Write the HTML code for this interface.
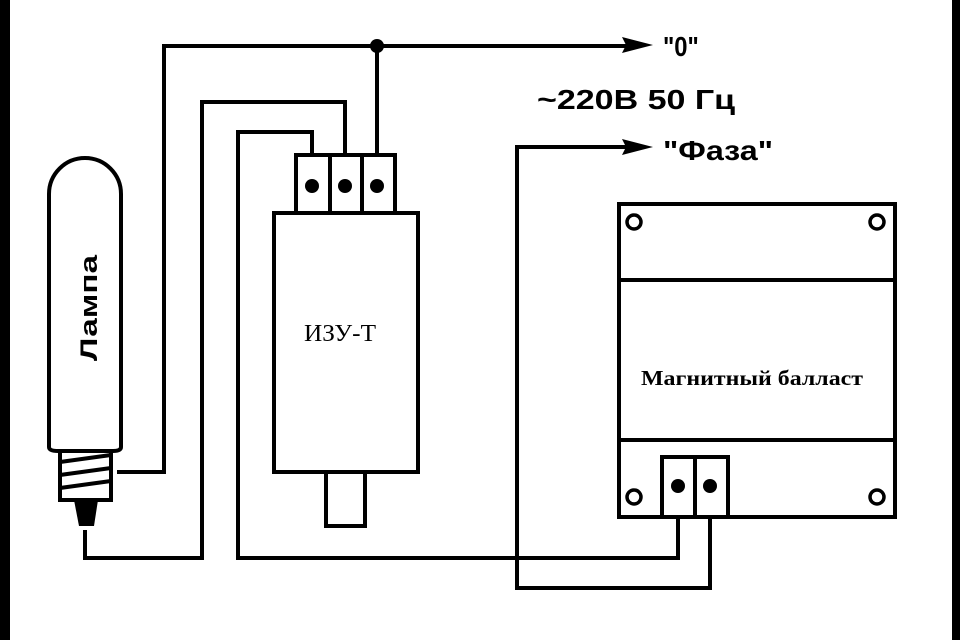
<!DOCTYPE html>
<html><head><meta charset="utf-8"><style>
html,body{margin:0;padding:0;background:#fff}
svg{display:block}
</style></head><body>
<svg width="960" height="640" viewBox="0 0 960 640" xmlns="http://www.w3.org/2000/svg">
<rect width="960" height="640" fill="#fff"/>
<rect x="0" y="0" width="10" height="640" fill="#000"/>
<rect x="952" y="0" width="8" height="640" fill="#000"/>
<g fill="none" stroke="#000" stroke-width="4" stroke-linejoin="miter">
<polyline points="117,472 164,472 164,46 638,46"/>
<line x1="377" y1="46" x2="377" y2="155"/>
<polyline points="345,155 345,102 202,102 202,558 85,558 85,530"/>
<polyline points="312,155 312,132 238,132 238,558 678,558 678,517"/>
<polyline points="638,147 517,147 517,588 710,588 710,517"/>
<rect x="296" y="155" width="99" height="58"/>
<line x1="330" y1="155" x2="330" y2="213"/>
<line x1="362" y1="155" x2="362" y2="213"/>
<rect x="274" y="213" width="144" height="259"/>
<rect x="326" y="472" width="39" height="54"/>
<path d="M49,447 L49,194 A36,36 0 0 1 121,194 L121,447 Q121,451 113,451 L58,451 Q49,451 49,447 Z"/>
<path d="M60,451 L60,500 L111,500 L111,451"/>
<line x1="60" y1="462" x2="111" y2="455"/>
<line x1="60" y1="475" x2="111" y2="468"/>
<line x1="60" y1="488" x2="111" y2="481"/>
<rect x="619" y="204" width="276" height="313"/>
<line x1="619" y1="280" x2="895" y2="280"/>
<line x1="619" y1="440" x2="895" y2="440"/>
<rect x="662" y="457" width="66" height="60"/>
<line x1="695" y1="457" x2="695" y2="517"/>
</g>
<g fill="none" stroke="#000" stroke-width="3.5">
<circle cx="634" cy="222" r="7"/>
<circle cx="877" cy="222" r="7"/>
<circle cx="634" cy="497" r="7"/>
<circle cx="877" cy="497" r="7"/>
</g>
<g fill="#000">
<path d="M74,500 L98,500 L94,526 L79,526 Z"/>
<circle cx="377" cy="46" r="7"/>
<circle cx="312" cy="186" r="7"/>
<circle cx="345" cy="186" r="7"/>
<circle cx="377" cy="186" r="7"/>
<circle cx="678" cy="486" r="7"/>
<circle cx="710" cy="486" r="7"/>
<path d="M653,45 L622,37 L626,45 L622,53 Z"/>
<path d="M653,147 L622,139 L626,147 L622,155 Z"/>
</g>
<g font-family="'Liberation Sans', sans-serif" font-weight="bold" fill="#000">
<text x="663" y="56" font-size="28" transform="translate(663 56) scale(0.85 1) translate(-663 -56)">"0"</text>
<text x="537" y="109" font-size="28" textLength="198" lengthAdjust="spacingAndGlyphs">~220В 50 Гц</text>
<text x="663" y="160" font-size="28" textLength="110" lengthAdjust="spacingAndGlyphs">"Фаза"</text>
<text x="0" y="0" font-size="24" text-anchor="middle" transform="translate(97 308) rotate(-90)" textLength="106" lengthAdjust="spacingAndGlyphs">Лампа</text>
</g>
<g font-family="'Liberation Serif', serif" fill="#000">
<text x="340" y="341" font-size="24" text-anchor="middle" textLength="72" lengthAdjust="spacingAndGlyphs">ИЗУ-Т</text>
<text x="752" y="385" font-size="21" font-weight="bold" text-anchor="middle" textLength="222" lengthAdjust="spacingAndGlyphs">Магнитный балласт</text>
</g>
</svg>
</body></html>
